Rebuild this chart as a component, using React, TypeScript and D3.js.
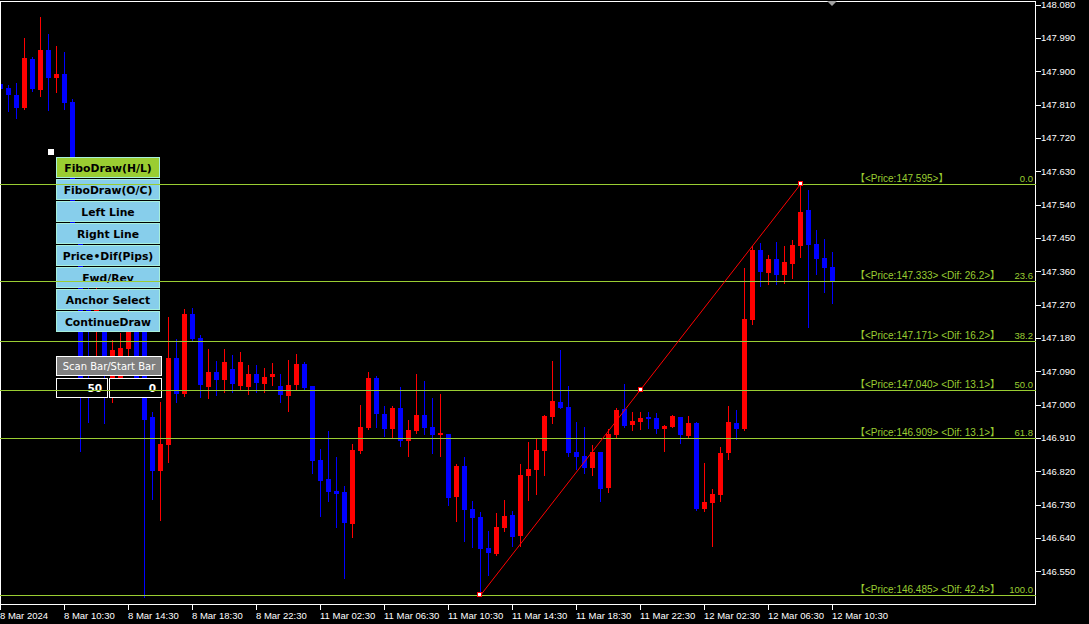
import { scaleLinear, scan, min, max } from "d3";

const W = 1089;
const H = 624;
const FRAME = { left: 0.5, top: 1.5, right: 1035.5, bottom: 604.5 };

// 30-minute bars, USDJPY-like (bar 0 = 8 Mar 06:30)
const opens = [
  147.865, 147.854, 147.836, 147.8, 147.933, 147.849, 147.957, 147.881, 147.892, 147.817,
  147.458, 147.282, 147.228, 147.201, 147.053, 147.066, 147.15, 147.215, 147.201, 146.966,
  146.821, 146.891, 147.126, 147.028, 147.244, 147.179, 147.047, 147.088, 147.066, 147.096,
  147.05, 147.047, 147.082, 147.055, 147.074, 147.05, 147.023, 147.053, 147.109, 147.05,
  146.85, 146.799, 146.767, 146.764, 146.678, 146.874, 146.936, 147.072, 146.974, 146.934,
  146.99, 146.901, 146.928, 146.972, 146.939, 146.918, 146.92, 146.75, 146.834, 146.718,
  146.696, 146.612, 146.596, 146.666, 146.702, 146.645, 146.807, 146.823, 146.874, 146.966,
  147.007, 146.993, 146.872, 146.861, 146.829, 146.872, 146.775, 146.918, 146.988, 146.945,
  146.953, 146.966, 146.964, 146.934, 146.939, 146.966, 146.915, 146.95, 146.718, 146.734,
  146.756, 146.869, 146.95, 146.934, 147.228, 147.417, 147.355, 147.393, 147.35, 147.38,
  147.428, 147.525, 147.433, 147.396, 147.372,
];
const highs = [
  147.868, 147.863, 147.868, 147.989, 147.938, 148.046, 148.0, 147.968, 147.952, 147.825,
  147.471, 147.336, 147.336, 147.228, 147.174, 147.193, 147.255, 147.242, 147.228, 146.98,
  147.007, 147.236, 147.177, 147.258, 147.26, 147.188, 147.15, 147.117, 147.15, 147.134,
  147.142, 147.107, 147.107, 147.098, 147.112, 147.082, 147.12, 147.136, 147.115, 147.05,
  146.88, 146.928, 146.858, 146.78, 146.893, 146.999, 147.088, 147.077, 146.996, 146.996,
  147.047, 146.958, 147.082, 147.063, 147.017, 147.028, 146.92, 146.839, 146.858, 146.739,
  146.71, 146.658, 146.707, 146.742, 146.712, 146.839, 146.899, 146.907, 146.972, 147.117,
  147.147, 147.05, 146.953, 146.939, 146.891, 146.872, 146.934, 146.99, 147.055, 146.98,
  146.98, 146.98, 146.977, 146.945, 146.972, 146.966, 146.969, 146.953, 146.842, 146.772,
  146.885, 146.996, 146.985, 147.369, 147.428, 147.436, 147.404, 147.439, 147.428, 147.444,
  147.595, 147.579, 147.471, 147.447, 147.412,
];
const lows = [
  147.849, 147.792, 147.773, 147.798, 147.846, 147.833, 147.795, 147.844, 147.798, 147.444,
  146.874, 146.953, 147.12, 146.95, 147.007, 147.034, 147.131, 147.026, 146.48, 146.745,
  146.688, 146.845, 147.007, 147.023, 147.171, 147.02, 147.017, 147.026, 147.034, 147.034,
  147.039, 147.028, 147.034, 147.034, 147.053, 147.007, 146.982, 147.039, 147.042, 146.815,
  146.699, 146.739, 146.669, 146.532, 146.642, 146.869, 146.934, 146.939, 146.915, 146.912,
  146.888, 146.861, 146.923, 146.92, 146.869, 146.861, 146.729, 146.685, 146.631, 146.615,
  146.485, 146.54, 146.594, 146.658, 146.618, 146.618, 146.742, 146.758, 146.81, 146.95,
  146.99, 146.861, 146.826, 146.815, 146.81, 146.739, 146.764, 146.912, 146.939, 146.931,
  146.934, 146.936, 146.923, 146.874, 146.939, 146.896, 146.91, 146.715, 146.712, 146.618,
  146.739, 146.853, 146.907, 146.931, 147.217, 147.32, 147.326, 147.326, 147.328, 147.342,
  147.398, 147.209, 147.353, 147.304, 147.274,
];
const closes = [
  147.852, 147.836, 147.8, 147.935, 147.852, 147.957, 147.881, 147.892, 147.814, 147.458,
  147.066, 147.215, 147.309, 147.093, 147.147, 147.152, 147.228, 147.039, 146.958, 146.821,
  146.893, 147.126, 147.028, 147.244, 147.177, 147.053, 147.088, 147.066, 147.115, 147.055,
  147.115, 147.082, 147.058, 147.074, 147.082, 147.026, 147.053, 147.109, 147.044, 146.847,
  146.793, 146.764, 146.758, 146.68, 146.877, 146.939, 147.072, 146.974, 146.934, 146.99,
  146.901, 146.931, 146.972, 146.936, 146.918, 146.923, 146.747, 146.834, 146.715, 146.694,
  146.61, 146.599, 146.669, 146.699, 146.642, 146.81, 146.826, 146.877, 146.969, 147.009,
  146.99, 146.869, 146.858, 146.829, 146.872, 146.772, 146.92, 146.985, 146.942, 146.956,
  146.964, 146.961, 146.934, 146.942, 146.969, 146.918, 146.95, 146.718, 146.737, 146.758,
  146.869, 146.953, 146.934, 147.231, 147.417, 147.358, 147.393, 147.35, 147.385, 147.431,
  147.52, 147.431, 147.393, 147.369, 147.334,
];

const timeLabels = [
  "8 Mar 2024", "8 Mar 10:30", "8 Mar 14:30", "8 Mar 18:30", "8 Mar 22:30",
  "11 Mar 02:30", "11 Mar 06:30", "11 Mar 10:30", "11 Mar 14:30", "11 Mar 18:30",
  "11 Mar 22:30", "12 Mar 02:30", "12 Mar 06:30", "12 Mar 10:30",
];
const barsPerLabel = 8;

const priceTicks = [
  148.08, 147.99, 147.9, 147.81, 147.72, 147.63, 147.54, 147.45, 147.36,
  147.27, 147.18, 147.09, 147.0, 146.91, 146.82, 146.73, 146.64, 146.55,
];

const fiboLevels = [0, 23.6, 38.2, 50, 61.8, 100];
const buttonLabels = [
  "FiboDraw(H/L)", "FiboDraw(O/C)", "Left Line", "Right Line",
  "Price\u2022Dif(Pips)", "Fwd/Rev", "Anchor Select", "ContinueDraw",
];
const scanBars = 50;
const startBar = 0;

const FIBO = "#9ACD32";
const AXIS_FONT = "'Liberation Sans', Arial, sans-serif";
const LABEL_FONT = "'Liberation Sans', 'Noto Sans CJK JP', sans-serif";
const UI_FONT = "'DejaVu Sans', Verdana, sans-serif";

export default function App() {
  const n = opens.length;
  const x = scaleLinear().domain([0, n - 1]).range([0, (n - 1) * 8]);
  const y = scaleLinear().domain([146.485, 147.595]).range([595.3, 184.3]);
  const px = (v: number) => Math.round(v) + 0.5;

  // fibo anchors: scan the last `scanBars` bars, skipping `startBar`
  const from = n - startBar - scanBars;
  const scanLows = lows.slice(from, n - startBar);
  const scanHighs = highs.slice(from, n - startBar);
  const loIdx = from + (scan(scanLows, (a, b) => a - b) ?? 0);
  const hiIdx = from + (scan(scanHighs, (a, b) => b - a) ?? 0);
  const lo = min(scanLows) ?? 0;
  const hi = max(scanHighs) ?? 0;
  const levelPrice = (r: number) => hi - ((hi - lo) * r) / 100;

  const ax = x(loIdx) + 0.5, ay = y(lo);
  const bx = x(hiIdx) + 0.5, by = y(hi);

  return (
    <div style={{ position: "fixed", inset: 0, background: "#000" }}>
      <svg width={W} height={H} style={{ display: "block" }}>
        <defs>
          <clipPath id="plot">
            <rect x={1} y={2} width={1034} height={602} />
          </clipPath>
        </defs>
        <rect width={W} height={H} fill="#000" />

        <g clipPath="url(#plot)" shapeRendering="crispEdges">
          {opens.map((o, i) => {
            const c = closes[i];
            const cx = x(i) + 0.5;
            const col = c >= o ? "#ff0000" : "#0000ff";
            const top = Math.round(y(Math.max(o, c)));
            const bot = Math.round(y(Math.min(o, c)));
            return (
              <g key={i}>
                <line x1={cx} x2={cx} y1={Math.round(y(highs[i]))} y2={Math.round(y(lows[i])) + 1} stroke={col} />
                <rect x={cx - 2.5} y={top} width={5} height={Math.max(1, bot - top)} fill={col} />
              </g>
            );
          })}
        </g>

        <rect
          x={FRAME.left}
          y={FRAME.top}
          width={FRAME.right - FRAME.left}
          height={FRAME.bottom - FRAME.top}
          fill="none"
          stroke="#fff"
          shapeRendering="crispEdges"
        />

        {/* price axis */}
        {priceTicks.map((t) => (
          <g key={t}>
            <line x1={FRAME.right} x2={FRAME.right + 5} y1={px(y(t))} y2={px(y(t))} stroke="#fff" shapeRendering="crispEdges" />
            <text x={1041} y={y(t)} dy="0.35em" fill="#fff" fontFamily={AXIS_FONT} fontSize={9.5}>
              {t.toFixed(3)}
            </text>
          </g>
        ))}

        {/* time axis */}
        {timeLabels.map((l, k) => {
          const tx = x(k * barsPerLabel);
          return (
            <g key={l}>
              <line x1={tx + 0.5} x2={tx + 0.5} y1={FRAME.bottom} y2={610} stroke="#fff" shapeRendering="crispEdges" />
              <text x={tx} y={619} fill="#fff" fontFamily={AXIS_FONT} fontSize={9.5}>
                {l}
              </text>
            </g>
          );
        })}

        {/* panel */}
        <rect x={48} y={149} width={6} height={6} fill="#fff" />
        {buttonLabels.map((b, k) => {
          const by0 = 157 + k * 22;
          return (
            <g key={b}>
              <rect
                x={56.5}
                y={by0 + 0.5}
                width={103}
                height={20}
                fill={k === 0 ? FIBO : "#87CEEB"}
                stroke="#a8f0dc"
                shapeRendering="crispEdges"
              />
              <text
                x={108}
                y={by0 + 11}
                dy="0.36em"
                textAnchor="middle"
                fill="#000"
                fontFamily={UI_FONT}
                fontWeight="bold"
                fontSize={10.8}
              >
                {b}
              </text>
            </g>
          );
        })}
        <rect x={56.5} y={356.5} width={105} height={19} fill="#808080" stroke="#fff" shapeRendering="crispEdges" />
        <text x={109} y={366} dy="0.36em" textAnchor="middle" fill="#fff" fontFamily={UI_FONT} fontSize={10}>
          Scan Bar/Start Bar
        </text>
        <rect x={56.5} y={378.5} width={51} height={19} fill="#000" stroke="#fff" shapeRendering="crispEdges" />
        <rect x={109.5} y={378.5} width={52} height={19} fill="#000" stroke="#fff" shapeRendering="crispEdges" />
        <text x={102} y={388} dy="0.36em" textAnchor="end" fill="#fff" fontFamily={UI_FONT} fontWeight="bold" fontSize={10.5}>
          {scanBars}
        </text>
        <text x={156} y={388} dy="0.36em" textAnchor="end" fill="#fff" fontFamily={UI_FONT} fontWeight="bold" fontSize={10.5}>
          {startBar}
        </text>

        {/* fibo levels */}
        {fiboLevels.map((r, k) => {
          const p = levelPrice(r);
          const ly = px(y(p));
          const dif = k === 0 ? null : ((levelPrice(fiboLevels[k - 1]) - p) * 100).toFixed(1);
          const label = dif === null
            ? `\u3010<Price:${p.toFixed(3)}>\u3011`
            : `\u3010<Price:${p.toFixed(3)}> <Dif: ${dif}>\u3011`;
          return (
            <g key={r}>
              <line x1={0} x2={FRAME.right} y1={ly} y2={ly} stroke={FIBO} shapeRendering="crispEdges" />
              <text x={855} y={ly - 3} fill={FIBO} fontFamily={LABEL_FONT} fontSize={10}>
                {label}
              </text>
              <text x={1033} y={ly - 3} textAnchor="end" fill={FIBO} fontFamily={AXIS_FONT} fontSize={9.5}>
                {r.toFixed(1)}
              </text>
            </g>
          );
        })}

        {/* fibo trend line with anchors */}
        <line x1={ax} y1={ay} x2={bx} y2={by} stroke="#ff0000" strokeWidth={1} />
        {[
          [ax, ay],
          [(ax + bx) / 2, (ay + by) / 2],
          [bx, by],
        ].map(([cx, cy], k) => (
          <rect key={k} x={Math.round(cx) - 2.5} y={Math.round(cy) - 2.5} width={4} height={4} fill="#fff" stroke="#ff0000" shapeRendering="crispEdges" />
        ))}

        <path d="M827,1 L837,1 L832,6 Z" fill="#a0a0a0" />
      </svg>
    </div>
  );
}
